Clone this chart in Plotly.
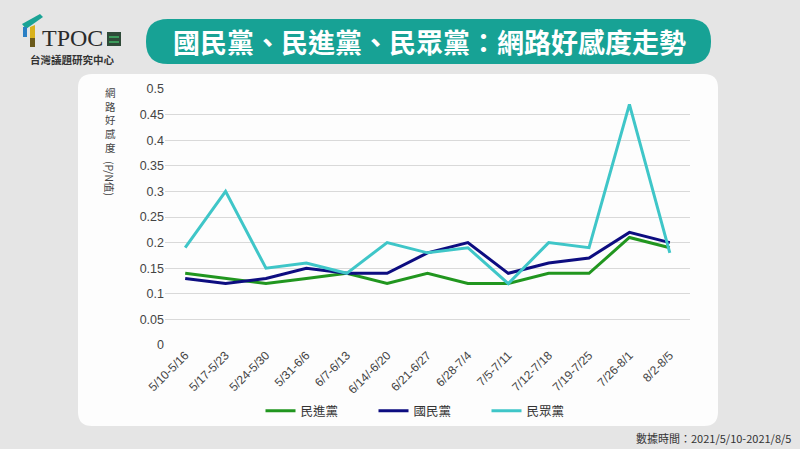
import plotly.graph_objects as go

categories = ["5/10-5/16", "5/17-5/23", "5/24-5/30", "5/31-6/6", "6/7-6/13", "6/14/-6/20",
              "6/21-6/27", "6/28-7/4", "7/5-7/11", "7/12-7/18", "7/19-7/25", "7/26-8/1", "8/2-8/5"]
dpp = [0.14, 0.13, 0.12, 0.13, 0.14, 0.12, 0.14, 0.12, 0.12, 0.14, 0.14, 0.21, 0.19]
kmt = [0.13, 0.12, 0.13, 0.15, 0.14, 0.14, 0.18, 0.20, 0.14, 0.16, 0.17, 0.22, 0.20]
tpp = [0.19, 0.30, 0.15, 0.16, 0.14, 0.20, 0.18, 0.19, 0.12, 0.20, 0.19, 0.47, 0.18]
series_names = ["民進黨", "國民黨", "民眾黨"]
y_ticks = [0, 0.05, 0.1, 0.15, 0.2, 0.25, 0.3, 0.35, 0.4, 0.45, 0.5]
y_ticktext = ["0", "0.05", "0.1", "0.15", "0.2", "0.25", "0.3", "0.35", "0.4", "0.45", "0.5"]
y_title_chars = ["網", "路", "好", "感", "度"]
y_title_unit = "(P/N值)"

W, H = 800, 449
L, R, T, B = 165, 110, 89, 104
PW, PH = W - L - R, H - T - B
FONT = "Noto Sans CJK TC"


def px(x):
    return (x - L) / PW


def py(y):
    return (H - B - y) / PH


def rrect(x0, y0, x1, y1, r):
    return (f"M {px(x0 + r)},{py(y0)} L {px(x1 - r)},{py(y0)} "
            f"Q {px(x1)},{py(y0)} {px(x1)},{py(y0 + r)} L {px(x1)},{py(y1 - r)} "
            f"Q {px(x1)},{py(y1)} {px(x1 - r)},{py(y1)} L {px(x0 + r)},{py(y1)} "
            f"Q {px(x0)},{py(y1)} {px(x0)},{py(y1 - r)} L {px(x0)},{py(y0 + r)} "
            f"Q {px(x0)},{py(y0)} {px(x0 + r)},{py(y0)} Z")


def poly(points):
    return "M " + " L ".join(f"{px(a)},{py(b)}" for a, b in points) + " Z"


colors = ["#21961f", "#0d0d80", "#3fc6c8"]
fig = go.Figure()
for name, vals, c in zip(series_names, [dpp, kmt, tpp], colors):
    fig.add_trace(go.Scatter(x=categories, y=vals, mode="lines", name=name,
                             line=dict(color=c, width=3)))

shapes = [
    dict(type="path", xref="paper", yref="paper", path=rrect(78, 74, 718, 426, 14),
         fillcolor="#fdfdfd", line=dict(width=0), layer="below"),
    dict(type="path", xref="paper", yref="paper", path=rrect(146, 19, 711, 64, 22),
         fillcolor="#17a295", line=dict(width=0), layer="below"),
    # logo icon
    dict(type="path", xref="paper", yref="paper",
         path=poly([(22, 24), (40, 14), (43, 17), (26, 29)]),
         fillcolor="#1aa395", line=dict(width=0)),
    dict(type="rect", xref="paper", yref="paper", x0=px(23), x1=px(27), y0=py(27), y1=py(37),
         fillcolor="#2a7fc4", line=dict(width=0)),
    dict(type="path", xref="paper", yref="paper", path=poly([(30, 27), (35, 25), (35, 47), (30, 47)]),
         fillcolor="#d9b21c", line=dict(width=0)),
    dict(type="rect", xref="paper", yref="paper", x0=px(30), x1=px(35), y0=py(38), y1=py(47),
         fillcolor="#6b5a1a", line=dict(width=0)),
    dict(type="rect", xref="paper", yref="paper", x0=px(107), x1=px(121), y0=py(32), y1=py(46),
         fillcolor="#2f4a38", line=dict(width=0)),
    dict(type="rect", xref="paper", yref="paper", x0=px(109), x1=px(119), y0=py(36), y1=py(38),
         fillcolor="#3c9a5a", line=dict(width=0)),
    dict(type="rect", xref="paper", yref="paper", x0=px(109), x1=px(119), y0=py(41), y1=py(43),
         fillcolor="#3c9a5a", line=dict(width=0)),
]

annotations = [
    dict(text="<b>國民黨、民進黨、民眾黨：網路好感度走勢</b>", x=px(429), y=py(41), xref="paper", yref="paper",
         showarrow=False, font=dict(size=27, color="white", family=FONT), xanchor="center", yanchor="middle"),
    dict(text="TPOC", x=px(40), y=py(38), xref="paper", yref="paper", showarrow=False,
         font=dict(size=24, color="#2b2b2b", family="Liberation Serif"), xanchor="left", yanchor="middle"),
    dict(text="<b>台灣議題研究中心</b>", x=px(72), y=py(59), xref="paper", yref="paper", showarrow=False,
         font=dict(size=10.5, color="#333333", family=FONT), xanchor="center", yanchor="middle"),
    dict(text="<br>".join(y_title_chars), x=px(110), y=py(84), xref="paper", yref="paper", showarrow=False,
         font=dict(size=10.5, color="#444444", family=FONT), xanchor="center", yanchor="top", borderpad=0),
    dict(text=y_title_unit, x=px(110), y=py(178), xref="paper", yref="paper", showarrow=False, textangle=90,
         font=dict(size=10.5, color="#444444", family=FONT), xanchor="center", yanchor="middle", borderpad=0),
    dict(text="數據時間：2021/5/10-2021/8/5", x=px(793), y=py(438), xref="paper", yref="paper",
         showarrow=False, font=dict(size=11, color="#333333", family=FONT), xanchor="right", yanchor="middle"),
]

fig.update_layout(
    width=W, height=H,
    margin=dict(l=L, r=R, t=T, b=B),
    paper_bgcolor="#e5e5e5", plot_bgcolor="rgba(0,0,0,0)",
    font=dict(family=FONT, color="#444444"),
    shapes=shapes, annotations=annotations,
    showlegend=True,
    legend=dict(orientation="h", x=px(430), y=py(411), xanchor="center", yanchor="middle",
                entrywidth=68, entrywidthmode="pixels", font=dict(size=12.5, color="#333333"),
                bgcolor="rgba(0,0,0,0)", itemwidth=30),
    xaxis=dict(type="category", range=[-0.5, len(categories) - 0.5], tickangle=-45,
               tickfont=dict(size=12, color="#444444", family="Liberation Sans"),
               showgrid=False, showline=False, ticks="", zeroline=False),
    yaxis=dict(range=[0, 0.5], tickvals=y_ticks, ticktext=y_ticktext,
               tickfont=dict(size=12.5, color="#444444", family="Liberation Sans"),
               showgrid=True, gridcolor="#d9d9d9", gridwidth=1, zeroline=False, showline=False, ticks=""),
)

fig.write_html("out.html", config={"displayModeBar": False},
               post_script="document.body.style.margin='0';document.body.style.overflow='hidden';")
